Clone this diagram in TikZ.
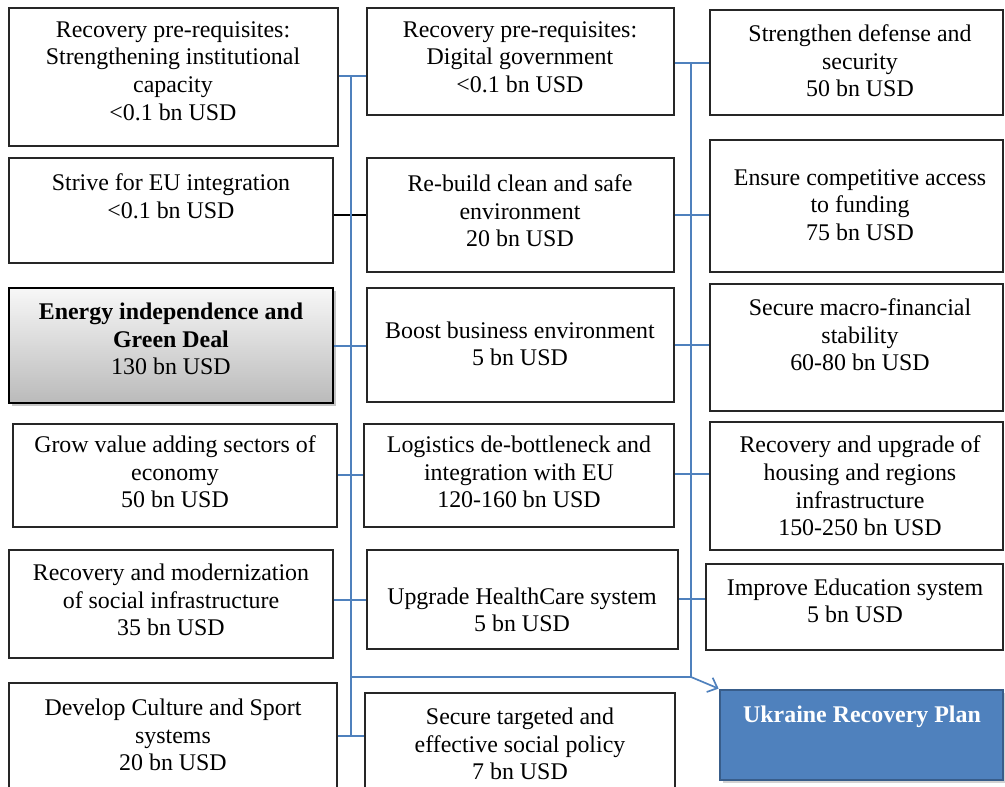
\documentclass[tikz,border=0pt]{standalone}
\usepackage{fontspec}
\setmainfont{Liberation Serif}
\usetikzlibrary{fit,shadows,arrows.meta}
\definecolor{linkblue}{HTML}{4F81BD}
\definecolor{planedge}{HTML}{385D8A}
\tikzset{
  box/.style={draw=black!85, line width=0.9pt, inner sep=0pt, fill=white},
  txt/.style={align=center, font=\fontsize{17}{19.6}\selectfont, inner sep=0pt},
  link/.style={draw=linkblue, line width=1.2pt},
}

\begin{document}
\begin{tikzpicture}[x=0.025cm, y=-0.025cm]
    \clip (0,0) rectangle (1005,787);
    \fill[white] (0,0) rectangle (1005,787);

    % left column
    \node[box, fit={(9,8) (338,146)}] (l1) {};
    \node[txt] (l1t) at (173,71) {Recovery pre-requisites:\\Strengthening institutional\\capacity\\<0.1 bn USD};
    \node[box, fit={(9,158) (333,263)}] (l2) {};
    \node[txt] (l2t) at (171,196) {Strive for EU integration\\<0.1 bn USD};
    \node[box, line width=1.4pt, draw=black, top color=black!3, bottom color=black!27,
          drop shadow={opacity=0.45, shadow xshift=2pt, shadow yshift=-2pt},
          fit={(9,288) (333,403)}] (l3) {};
    \node[txt] (l3t) at (171,339) {\textbf{Energy independence and}\\\textbf{Green Deal}\\130 bn USD};
    \node[box, fit={(13,424) (337,527)}] (l4) {};
    \node[txt] (l4t) at (175,472) {Grow value adding sectors of\\economy\\50 bn USD};
    \node[box, fit={(9,550) (333,658)}] (l5) {};
    \node[txt] (l5t) at (171,600) {Recovery and modernization\\of social infrastructure\\35 bn USD};
    \node[box, fit={(9,683) (337,795)}] (l6) {};
    \node[txt] (l6t) at (173,735) {Develop Culture and Sport\\systems\\20 bn USD};

    % middle column
    \node[box, fit={(367,8) (674,115)}] (m1) {};
    \node[txt] (m1t) at (520,57) {Recovery pre-requisites:\\Digital government\\<0.1 bn USD};
    \node[box, fit={(367,158) (674,272)}] (m2) {};
    \node[txt] (m2t) at (520,211) {Re-build clean and safe\\environment\\20 bn USD};
    \node[box, fit={(367,288) (674,402)}] (m3) {};
    \node[txt] (m3t) at (520,344) {Boost business environment\\5 bn USD};
    \node[box, fit={(364,424) (674,527)}] (m4) {};
    \node[txt] (m4t) at (519,472) {Logistics de-bottleneck and\\integration with EU\\120-160 bn USD};
    \node[box, fit={(367,550) (678,649)}] (m5) {};
    \node[txt] (m5t) at (522,610) {Upgrade HealthCare system\\5 bn USD};
    \node[box, fit={(365,693) (675,795)}] (m6) {};
    \node[txt] (m6t) at (520,744) {Secure targeted and\\effective social policy\\7 bn USD};

    % right column
    \node[box, fit={(710,10) (1003,115)}] (r1) {};
    \node[txt] (r1t) at (860,61) {Strengthen defense and\\security\\50 bn USD};
    \node[box, fit={(710,140) (1003,272)}] (r2) {};
    \node[txt] (r2t) at (860,205) {Ensure competitive access\\to funding\\75 bn USD};
    \node[box, fit={(710,284) (1003,411)}] (r3) {};
    \node[txt] (r3t) at (860,335) {Secure macro-financial\\stability\\60-80 bn USD};
    \node[box, fit={(710,422) (1003,550)}] (r4) {};
    \node[txt] (r4t) at (860,486) {Recovery and upgrade of\\housing and regions\\infrastructure\\150-250 bn USD};
    \node[box, fit={(706,564) (1003,650)}] (r5) {};
    \node[txt] (r5t) at (855,601) {Improve Education system\\5 bn USD};

    %% target
    \node[fit={(720,690) (1003,780)}, inner sep=0pt, fill=linkblue, draw=planedge,
          line width=2pt, drop shadow={opacity=0.35, shadow xshift=2pt, shadow yshift=-2pt}] (r6) {};
    \node[txt, text=white] (r6t) at (862,717) {\textbf{Ukraine Recovery Plan}};

    % trunks
    \foreach \i/\y in {1/76, 2/215, 3/346, 4/475, 5/600, 6/736}
      \coordinate (p\i) at (351,\y);
    \foreach \i/\y in {1/63, 2/215, 3/345, 4/474, 5/599, 6/677}
      \coordinate (q\i) at (691,\y);
    \coordinate (pj) at (351,677);

    \draw[black, line width=1pt] (l2.east |- p2) -- (m2.west |- p2);
    \foreach \i in {1,3,4,5,6}
      \draw[link] (l\i.east |- p\i) -- (m\i.west |- p\i);
    \foreach \i in {1,...,5}
      \draw[link] (m\i.east |- q\i) -- (r\i.west |- q\i);
    \draw[link] (p1) -- (p6);
    \draw[link] (q1) -- (q6);
    \draw[link] (pj) -- (q6);
    \draw[link, -{Straight Barb[length=6pt, width=11pt]}] (q6) -- (r6.north west);
\end{tikzpicture}
\end{document}
